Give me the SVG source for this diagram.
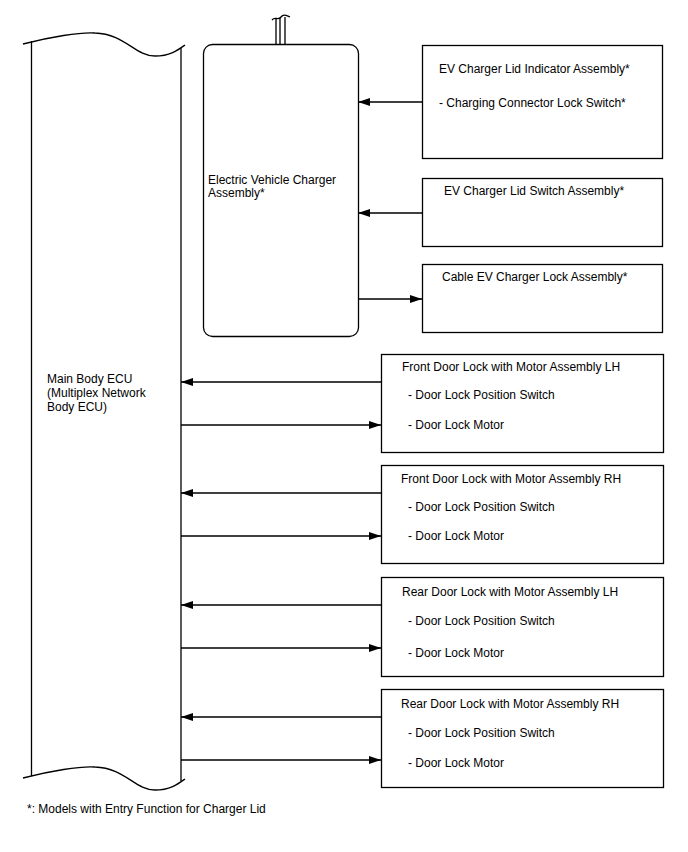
<svg xmlns="http://www.w3.org/2000/svg" width="688" height="852" viewBox="0 0 688 852">
<style>
.ln{fill:none;stroke:#000;stroke-width:1.3}
.bx{fill:#fff;stroke:#000;stroke-width:1.3}
.c{fill:none;stroke:#000;stroke-width:1.3}
text{font-family:"Liberation Sans",Arial,sans-serif;font-size:12px;fill:#000}
</style>
<defs>
<marker id="ah" viewBox="0 0 12 8" refX="12" refY="4" markerWidth="12" markerHeight="8" markerUnits="userSpaceOnUse" orient="auto">
<path d="M0,0 L12,4 L0,8 z" fill="#000"/>
</marker>
</defs>
<rect width="688" height="852" fill="#fff"/>

<g id="main-body-ecu">
<path class="ln" d="M23,44 C50,37 80,32 95,33 C125,34 135,56 155,56 C170,56 178,50 185,45"/>
<path class="ln" d="M31.5,41 V776 M181,48 V781"/>
<path class="ln" d="M23,778 C50,771 80,766 95,767 C125,768 135,790 155,790 C170,790 178,784 185,779"/>
<text x="47" y="383">Main Body ECU</text>
<text x="47" y="397">(Multiplex Network</text>
<text x="47" y="411">Body ECU)</text>
</g>

<g id="ev-charger">
<path class="ln" d="M276,44 V19 M280,44 V18 M285,44 V17"/>
<path class="ln" d="M272,20 C275,16 278,21 281,17 C284,13 287,16 290,17"/>
<rect class="bx" x="203.5" y="44.5" width="155" height="292" rx="9"/>
<text x="208" y="184">Electric Vehicle Charger</text>
<text x="208" y="197">Assembly*</text>
</g>

<g id="lid-indicator">
<rect class="bx" x="422.5" y="45.5" width="240" height="113"/>
<text x="439" y="73">EV Charger Lid Indicator Assembly*</text>
<text x="439" y="107">- Charging Connector Lock Switch*</text>
</g>

<g id="lid-switch">
<rect class="bx" x="422.5" y="178.5" width="240" height="68"/>
<text x="444" y="195">EV Charger Lid Switch Assembly*</text>
</g>

<g id="cable-lock">
<rect class="bx" x="422.5" y="264.5" width="240" height="68"/>
<text x="442" y="281">Cable EV Charger Lock Assembly*</text>
</g>

<g id="front-lh">
<rect class="bx" x="381.5" y="354.5" width="282" height="98"/>
<text x="402" y="371">Front Door Lock with Motor Assembly LH</text>
<text x="408" y="399">- Door Lock Position Switch</text>
<text x="408" y="429">- Door Lock Motor</text>
</g>

<g id="front-rh">
<rect class="bx" x="381.5" y="465.5" width="282" height="98"/>
<text x="401" y="483">Front Door Lock with Motor Assembly RH</text>
<text x="408" y="511">- Door Lock Position Switch</text>
<text x="408" y="540">- Door Lock Motor</text>
</g>

<g id="rear-lh">
<rect class="bx" x="381.5" y="577.5" width="282" height="99"/>
<text x="402" y="596">Rear Door Lock with Motor Assembly LH</text>
<text x="408" y="625">- Door Lock Position Switch</text>
<text x="408" y="657">- Door Lock Motor</text>
</g>

<g id="rear-rh">
<rect class="bx" x="381.5" y="689.5" width="282" height="98"/>
<text x="401" y="708">Rear Door Lock with Motor Assembly RH</text>
<text x="408" y="737">- Door Lock Position Switch</text>
<text x="408" y="767">- Door Lock Motor</text>
</g>

<g id="connectors">
<path class="c" d="M422,102 H358" marker-end="url(#ah)"/>
<path class="c" d="M422,213 H358" marker-end="url(#ah)"/>
<path class="c" d="M358,299 H422" marker-end="url(#ah)"/>
<path class="c" d="M381,382 H181" marker-end="url(#ah)"/>
<path class="c" d="M181,425 H381" marker-end="url(#ah)"/>
<path class="c" d="M381,493 H181" marker-end="url(#ah)"/>
<path class="c" d="M181,536 H381" marker-end="url(#ah)"/>
<path class="c" d="M381,605 H181" marker-end="url(#ah)"/>
<path class="c" d="M181,648 H381" marker-end="url(#ah)"/>
<path class="c" d="M381,717 H181" marker-end="url(#ah)"/>
<path class="c" d="M181,760 H381" marker-end="url(#ah)"/>
</g>

<text x="27" y="813">*: Models with Entry Function for Charger Lid</text>
</svg>
